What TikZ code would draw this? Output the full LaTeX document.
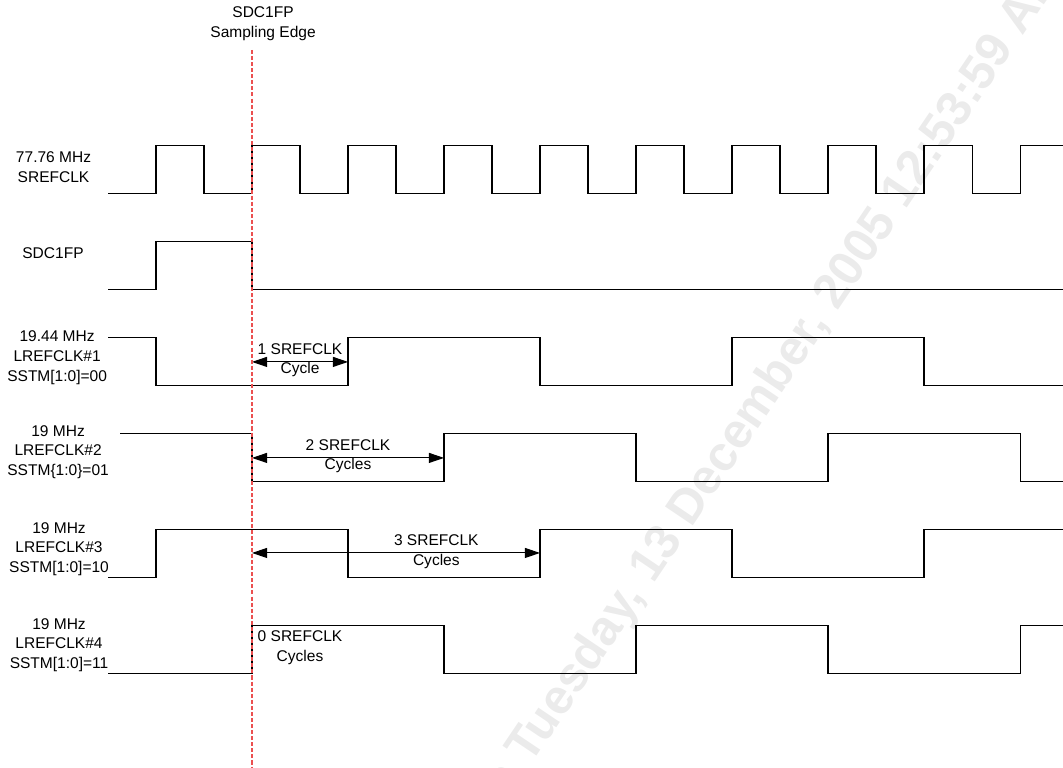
\documentclass[tikz,border=0pt]{standalone}
\usepackage{fontspec}
\setmainfont{Liberation Sans}
\usetikzlibrary{arrows.meta}
\definecolor{sampred}{RGB}{235,80,80}
\tikzset{
  wave/.style={line width=0.6pt},
  lbl/.style={align=center,inner sep=0pt,font=\fontsize{9.2}{11.8}\selectfont},
  cycarrow/.style={line width=0.6pt,{Triangle[length=8.9pt,width=5.9pt]}-{Triangle[length=8.9pt,width=5.9pt]}},
  sampline/.style={line width=0.6pt,draw=sampred,dash pattern=on 2.4pt off 1.2pt},
  stamp/.style={text=black!8,font=\fontsize{29}{34}\selectfont\bfseries,rotate=56}
}
\begin{document}
\begin{tikzpicture}
		\useasboundingbox (-0.25,0) rectangle (21.896,-16);
		\begin{scope}
			\clip (-0.25,0) rectangle (21.896,-16);
			\node[stamp] (printed) at (15.73,-8.19) {on Tuesday, 13 December, 2005 12:53:59 AM};
		\end{scope}
		\node[lbl] (title) at (5.23,-0.5) {SDC1FP\\Sampling Edge};
		\node[lbl] (clkname) at (0.865,-3.49) {77.76 MHz\\SREFCLK};
		\node[lbl] (fpname) at (0.854,-5.27) {SDC1FP};
		\node[lbl] (lrefa) at (0.94,-7.46) {19.44 MHz\\LREFCLK\#1\\SSTM[1:0]=00};
		\node[lbl] (lrefb) at (0.96,-9.42) {19 MHz\\LREFCLK\#2\\SSTM\{1:0\}=01};
		\node[lbl] (lrefc) at (0.98,-11.44) {19 MHz\\LREFCLK\#3\\SSTM[1:0]=10};
		\node[lbl] (lrefd) at (0.98,-13.44) {19 MHz\\LREFCLK\#4\\SSTM[1:0]=11};
		\draw[wave](2,-4.03) \foreach \x in {3,5,...,19}{ -- (\x,-4.03) -- (\x,-3.04) -- (\x+1,-3.04) -- (\x+1,-4.03)} -- (21,-4.03) -- (21,-3.04) -- (21.9,-3.04);
		\draw[wave](2,-6.03) -- (3,-6.03) -- (3,-5.04) -- (5,-5.04) -- (5,-6.03) -- (21.9,-6.03);
		\draw[wave](2,-7.04) -- (3,-7.04) -- (3,-8.03) -- (7,-8.03) -- (7,-7.04) -- (11,-7.04) -- (11,-8.03) -- (15,-8.03) -- (15,-7.04) -- (19,-7.04) -- (19,-8.03) -- (21.9,-8.03);
		\draw[wave](2.25,-9.04) -- (5,-9.04) -- (5,-10.03) -- (9,-10.03) -- (9,-9.04) -- (13,-9.04) -- (13,-10.03) -- (17,-10.03) -- (17,-9.04) -- (21,-9.04) -- (21,-10.03) -- (21.9,-10.03);
		\draw[wave](2,-12.03) -- (3,-12.03) -- (3,-11.04) -- (7,-11.04) -- (7,-12.03) -- (11,-12.03) -- (11,-11.04) -- (15,-11.04) -- (15,-12.03) -- (19,-12.03) -- (19,-11.04) -- (21.9,-11.04);
		\draw[wave](2,-14.03) -- (5,-14.03) -- (5,-13.04) -- (9,-13.04) -- (9,-14.03) -- (13,-14.03) -- (13,-13.04) -- (17,-13.04) -- (17,-14.03) -- (21,-14.03) -- (21,-13.04) -- (21.9,-13.04);
		\coordinate (s1) at (5,-7.54);
		\coordinate (e1) at (7,-7.54);
		\coordinate (s2) at (5,-9.54);
		\coordinate (e2) at (9,-9.54);
		\coordinate (s3) at (5,-11.52);
		\coordinate (e3) at (11,-11.52);
		\draw[cycarrow](s1) -- (e1) node[lbl,midway,yshift=1pt] (one) {1 SREFCLK\\Cycle};
		\draw[cycarrow](s2) -- (e2) node[lbl,midway,yshift=1pt] (two) {2 SREFCLK\\Cycles};
		\draw[cycarrow](s3) -- (e3) node[lbl,pos=0.64,yshift=1pt] (three) {3 SREFCLK\\Cycles};
		\node[lbl] (zero) at (6,-13.5) {0 SREFCLK\\Cycles};
		\coordinate (edgetop) at (5,-1.04);
		\coordinate (edgebot) at (5,-16);
		\draw[sampline](edgetop) -- (edgebot);
	    \end{tikzpicture}
\end{document}
